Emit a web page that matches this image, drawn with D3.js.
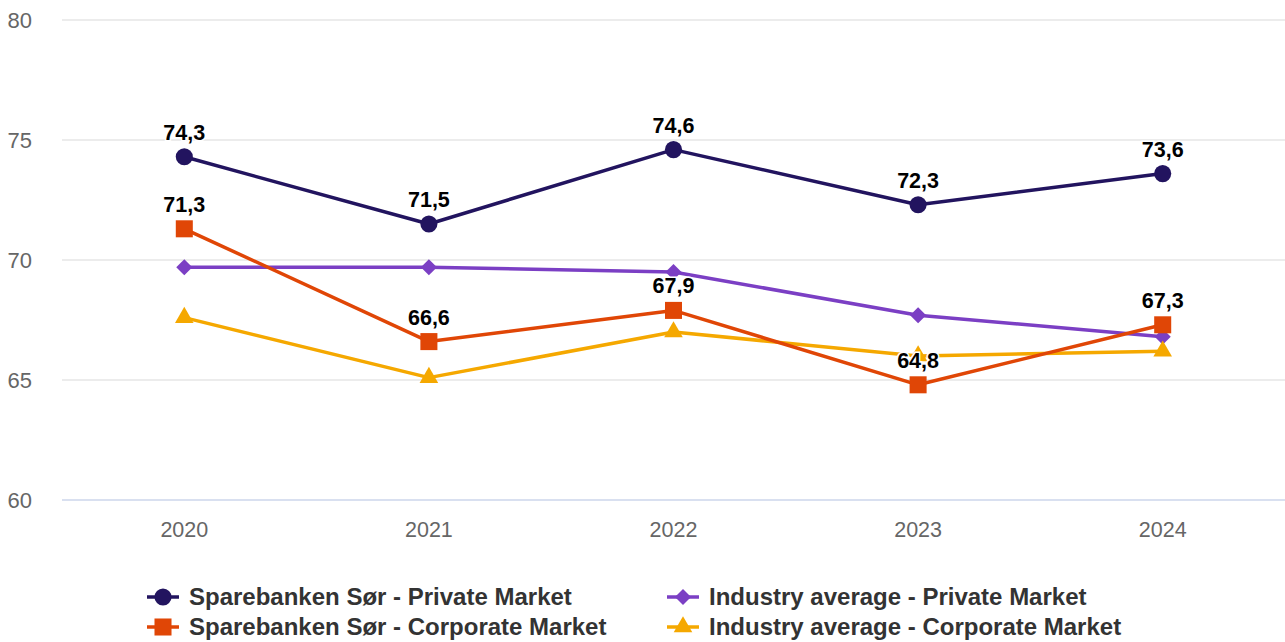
<!DOCTYPE html>
<html>
<head>
<meta charset="utf-8">
<script src="https://cdn.jsdelivr.net/npm/d3@7"></script>
<style>
  body { margin: 0; background: #fff; }
  svg { display: block; font-family: "Liberation Sans", Arial, sans-serif; }
</style>
</head>
<body>
<svg width="1285" height="642"></svg>
<script>
'use strict';

const years = ["2020", "2021", "2022", "2023", "2024"];
const yTicks = [60, 65, 70, 75, 80];

const sbsPrivate = [74.3, 71.5, 74.6, 72.3, 73.6];
const sbsCorporate = [71.3, 66.6, 67.9, 64.8, 67.3];
const industryPrivate = [69.7, 69.7, 69.5, 67.7, 66.8];
const industryCorporate = [67.6, 65.1, 67.0, 66.0, 66.2];

const seriesNames = [
  "Sparebanken Sør - Private Market",
  "Sparebanken Sør - Corporate Market",
  "Industry average - Private Market",
  "Industry average - Corporate Market"
];

const svg = d3.select("svg");
const plotLeft = 62, plotRight = 1285, plotTop = 20, plotBottom = 500;

const x = d3.scaleBand().domain(years).range([plotLeft, plotRight]);
const y = d3.scaleLinear().domain([60, 80]).range([plotBottom, plotTop]);
const cx = d => x(d) + x.bandwidth() / 2;

// grid
svg.append("g").selectAll("line")
  .data(yTicks)
  .join("line")
    .attr("x1", plotLeft).attr("x2", plotRight)
    .attr("y1", d => y(d)).attr("y2", d => y(d))
    .attr("stroke", d => d === 60 ? "#ccd6eb" : "#e6e6e6")
    .attr("stroke-width", 1.5);

svg.append("g").selectAll("text")
  .data(yTicks)
  .join("text")
    .attr("x", 32).attr("y", d => y(d) + 8)
    .attr("text-anchor", "end")
    .attr("fill", "#666")
    .attr("font-size", 22)
    .text(d => d);

svg.append("g").selectAll("text")
  .data(years)
  .join("text")
    .attr("x", d => cx(d)).attr("y", 537)
    .attr("text-anchor", "middle")
    .attr("fill", "#666")
    .attr("font-size", 21.5)
    .text(d => d);

const series = [
  {name: seriesNames[2], values: industryPrivate, color: "#7b3fc4", symbol: d3.symbolDiamond2, size: 165, labels: false},
  {name: seriesNames[3], values: industryCorporate, color: "#f5a800", symbol: d3.symbolTriangle, size: 150, labels: false},
  {name: seriesNames[0], values: sbsPrivate, color: "#22145f", symbol: d3.symbolCircle, size: 230, labels: true},
  {name: seriesNames[1], values: sbsCorporate, color: "#e04606", symbol: d3.symbolSquare, size: 290, labels: true}
];

const line = d3.line()
  .x((d, i) => cx(years[i]))
  .y(d => y(d));

series.forEach(s => {
  const g = svg.append("g");
  g.append("path")
    .attr("d", line(s.values))
    .attr("fill", "none")
    .attr("stroke", s.color)
    .attr("stroke-width", 3.5)
    .attr("stroke-linejoin", "round");
  g.selectAll("path.pt")
    .data(s.values)
    .join("path")
      .attr("class", "pt")
      .attr("transform", (d, i) => `translate(${cx(years[i])},${y(d)})`)
      .attr("d", d3.symbol(s.symbol, s.size))
      .attr("fill", s.color);
});

// data labels on top
series.filter(s => s.labels).forEach(s => {
  svg.append("g").selectAll("text")
    .data(s.values)
    .join("text")
      .attr("x", (d, i) => cx(years[i]))
      .attr("y", d => y(d) - 17)
      .attr("text-anchor", "middle")
      .attr("font-size", 21.5)
      .attr("font-weight", "bold")
      .attr("fill", "#000")
      .attr("stroke", "#fff")
      .attr("stroke-width", 3)
      .attr("paint-order", "stroke")
      .text(d => d3.format(".1f")(d).replace(".", ","));
});

// legend
const legendItems = [
  {s: series[2], x: 147, y: 597},
  {s: series[3], x: 147, y: 627},
  {s: series[0], x: 667, y: 597},
  {s: series[1], x: 667, y: 627}
];
const lg = svg.append("g").selectAll("g")
  .data(legendItems)
  .join("g")
    .attr("transform", d => `translate(${d.x},${d.y})`);
lg.append("line")
  .attr("x1", 0).attr("x2", 32)
  .attr("stroke", d => d.s.color)
  .attr("stroke-width", 3.5);
lg.append("path")
  .attr("transform", "translate(16,0)")
  .attr("d", d => d3.symbol(d.s.symbol, d.s.size)())
  .attr("fill", d => d.s.color);
lg.append("text")
  .attr("x", 42).attr("y", 8)
  .attr("font-size", 24)
  .attr("font-weight", "bold")
  .attr("fill", "#333")
  .text(d => d.s.name);
</script>
</body>
</html>
